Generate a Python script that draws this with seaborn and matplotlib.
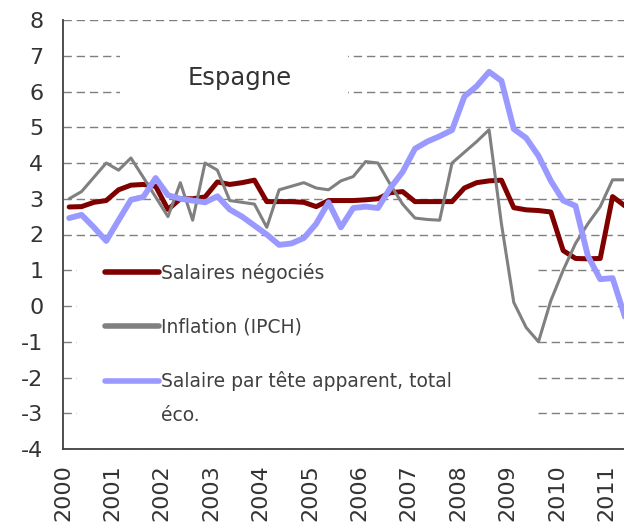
import numpy as np
import pandas as pd
import matplotlib
matplotlib.use("Agg")
import matplotlib.pyplot as plt
from matplotlib.patches import Rectangle
import seaborn as sns

# quarterly data, Espagne
quarters = pd.period_range("2000Q1", periods=46, freq="Q")

salaires_negocies = [2.77, 2.78, 2.90, 2.95, 3.25, 3.38, 3.40, 3.35, 2.70, 3.00,
                     3.00, 3.05, 3.47, 3.40, 3.45, 3.52, 2.92, 2.92, 2.92, 2.90,
                     2.78, 2.95, 2.95, 2.95, 2.97, 3.00, 3.17, 3.20, 2.92, 2.92,
                     2.92, 2.92, 3.30, 3.45, 3.50, 3.52, 2.75, 2.69, 2.67, 2.63,
                     1.55, 1.33, 1.32, 1.33, 3.06, 2.80]

inflation_ipch = [3.00, 3.20, 3.60, 4.00, 3.80, 4.14, 3.60, 3.05, 2.50, 3.45,
                  2.40, 4.00, 3.80, 2.95, 2.90, 2.85, 2.20, 3.25, 3.35, 3.45,
                  3.30, 3.25, 3.50, 3.62, 4.04, 4.00, 3.40, 2.85, 2.46, 2.42,
                  2.40, 4.00, 4.30, 4.60, 4.93, 2.30, 0.10, -0.60, -1.00, 0.15,
                  1.00, 1.75, 2.30, 2.78, 3.53, 3.53]

salaire_par_tete = [2.46, 2.55, 2.20, 1.82, 2.40, 2.97, 3.05, 3.58, 3.10, 3.00,
                    2.95, 2.90, 3.07, 2.70, 2.50, 2.25, 2.00, 1.71, 1.75, 1.90,
                    2.30, 2.90, 2.20, 2.74, 2.78, 2.74, 3.30, 3.75, 4.40, 4.60,
                    4.75, 4.92, 5.86, 6.15, 6.55, 6.30, 4.95, 4.70, 4.20, 3.50,
                    2.95, 2.80, 1.40, 0.75, 0.78, -0.30]

series_labels = ["Salaires négociés", "Inflation (IPCH)", "Salaire par tête apparent, total"]
series_colors = ["#800000", "#808080", "#9999ff"]
series_widths = [3.6, 2.2, 4.2]
year_ticks = list(range(2000, 2012))
year_labels = [str(y) for y in year_ticks]

df = pd.DataFrame({
    "t": quarters.year + (quarters.quarter - 0.5) / 4,
    series_labels[0]: salaires_negocies,
    series_labels[1]: inflation_ipch,
    series_labels[2]: salaire_par_tete,
})

sns.set_style("white")
plt.rcParams["font.family"] = ["DejaVu Sans"]
plt.rcParams["axes.unicode_minus"] = False

fig = plt.figure(figsize=(6.24, 5.31), dpi=100)
ax = fig.add_axes([63 / 624, 82 / 531, 561 / 624, 429 / 531])

for lab, col, lw in zip(series_labels, series_colors, series_widths):
    sns.lineplot(data=df, x="t", y=lab, color=col, lw=lw, label=lab, ax=ax, zorder=3)

ax.set_xlim(2000, 2000 + 561 / 49.4)
ax.set_ylim(-4, 8)
ax.set_yticks(range(-4, 9))
ax.set_xticks(year_ticks)
ax.set_xticklabels(year_labels, rotation=90)
ax.set_xlabel("")
ax.set_ylabel("")

ax.set_axisbelow(True)
ax.yaxis.grid(True, color="#7f7f7f", lw=1.0, ls=(0, (6, 3.5)))
ax.xaxis.grid(False)

for s in ["top", "right"]:
    ax.spines[s].set_visible(False)
for s in ["left", "bottom"]:
    ax.spines[s].set_color("#404040")
    ax.spines[s].set_linewidth(1.3)

ax.tick_params(axis="y", direction="inout", length=14, width=1.2, color="#404040",
               pad=7, labelsize=16, labelcolor="#333333")
ax.tick_params(axis="x", direction="in", length=7, width=1.2, color="#404040",
               pad=11, labelsize=16, labelcolor="#333333")

# white boxes behind title and legend
ax.add_patch(Rectangle((0.1016, 0.79), 0.406, 0.163, transform=ax.transAxes,
                       facecolor="white", edgecolor="none", zorder=1))
ax.add_patch(Rectangle((0.025, 0.04), 0.822, 0.424, transform=ax.transAxes,
                       facecolor="white", edgecolor="none", zorder=1))

ax.text(0.315, 0.865, "Espagne", transform=ax.transAxes, ha="center", va="center",
        fontsize=17.5, color="#333333", zorder=4)

leg = ax.legend(loc="upper left", bbox_to_anchor=(0.075, 0.434), frameon=False,
                fontsize=13.5, handlelength=2.9, handletextpad=0.1, labelspacing=1.85,
                borderpad=0, borderaxespad=0)
for t in leg.get_texts():
    t.set_color("#404040")
for h in leg.get_lines():
    h.set_linewidth(4)
eco = ax.annotate("éco.", xy=(0, 0), xycoords=leg.get_texts()[2], xytext=(0, -34),
                  textcoords="offset pixels", ha="left", va="bottom",
                  fontsize=13.5, color="#404040")
eco.set_zorder(6)

fig.savefig("out.png", dpi=100)
